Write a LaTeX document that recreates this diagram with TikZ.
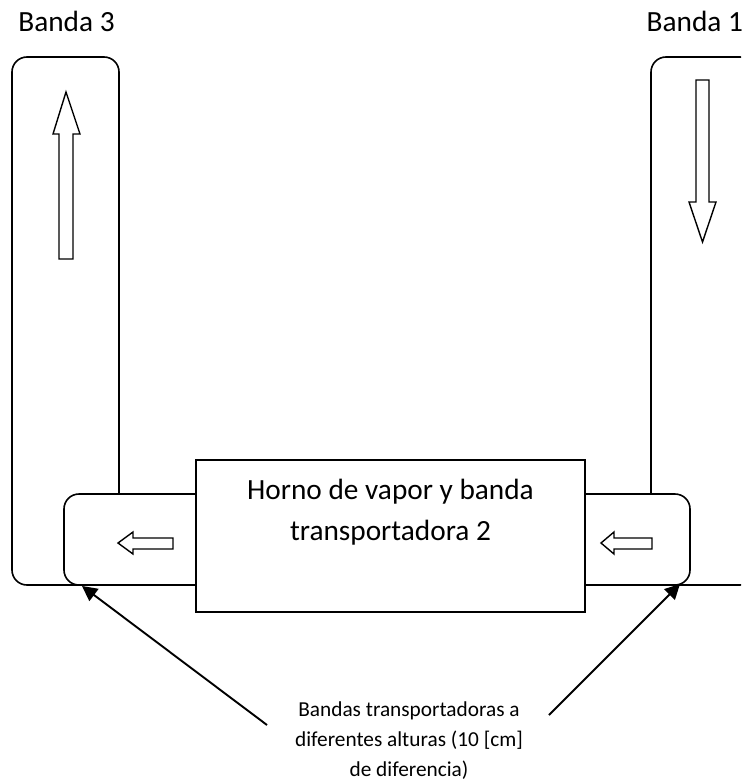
\documentclass[tikz,border=0pt]{standalone}
\usepackage{fontspec}
\setmainfont{Carlito}
\usetikzlibrary{arrows.meta}
\begin{document}
\begin{tikzpicture}[x=1pt,y=-1pt,
  band/.style={draw, line width=1.6pt, rounded corners=15pt, fill=white, inner sep=0pt, rectangle},
  oven/.style={draw, line width=2pt, fill=white, inner sep=0pt, rectangle},
  blockarrow/.style={draw, line width=1.4pt, fill=white, line join=miter},
  pointer/.style={line width=1.9pt, -{Triangle[length=15pt,width=15pt]}},
  bigtext/.style={font=\fontsize{29.3}{41}\selectfont, inner sep=0pt},
  smalltext/.style={font=\fontsize{21.3}{30}\selectfont, inner sep=0pt, align=center},
]
\useasboundingbox (0,0) rectangle (741,781);
\begin{scope}
\clip (0,0) rectangle (741,781);
% vertical conveyor belts
\node[band, minimum width=107pt, minimum height=528pt] (b3) at (65.5,321) {};
\node[band, minimum width=104pt, minimum height=528pt] (b1) at (703,321) {};
% short transfer belts
\node[band, minimum width=170pt, minimum height=91pt] (s3) at (149,539.5) {};
\node[band, minimum width=170pt, minimum height=91pt] (s1) at (605,539.5) {};
% oven
\node[oven, minimum width=389pt, minimum height=152pt] (oven) at (390.5,536) {};
\node[bigtext, align=center] (oventext) at (390.5,512) {Horno de vapor y banda\\transportadora 2};
% direction arrows
\draw[blockarrow] (66,92) -- (80,134) -- (73,134) -- (73,259) -- (59,259) -- (59,134) -- (53,134) -- cycle;
\draw[blockarrow] (696,80) -- (709,80) -- (709,202) -- (716,202) -- (702.5,242) -- (689,202) -- (696,202) -- cycle;
\draw[blockarrow] (118,543) -- (133,532) -- (133,538) -- (173,538) -- (173,549) -- (133,549) -- (133,554) -- cycle;
\draw[blockarrow] (601,543) -- (614,532) -- (614,538) -- (652,538) -- (652,549) -- (614,549) -- (614,554) -- cycle;
% labels
\node[bigtext, anchor=base] (t3) at (66.5,32) {Banda 3};
\node[bigtext, anchor=base west] (t1) at (646.5,32) {Banda 1};
\node[smalltext] (note) at (409,741) {Bandas transportadoras a\\diferentes alturas (10 [cm]\\de diferencia)};
% pointers
\coordinate (q3) at (267,725);
\coordinate (p3) at (82,586);
\coordinate (q1) at (549,715);
\coordinate (p1) at (680,584);
\draw[pointer] (q3) -- (p3);
\draw[pointer] (q1) -- (p1);
\end{scope}
\end{tikzpicture}
\end{document}
